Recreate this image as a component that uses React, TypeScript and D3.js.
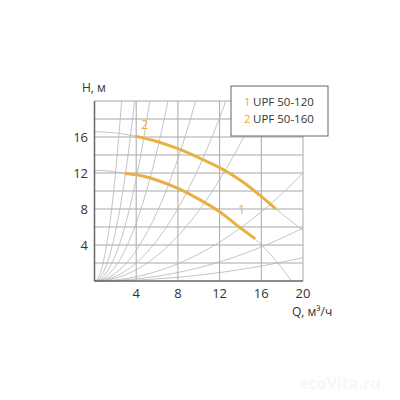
import React from "react";
import * as d3 from "d3";

const xTicks = [4, 8, 12, 16, 20];
const yTicks = [4, 8, 12, 16];
const xGrid = [4, 8, 12, 16, 20];
const yGrid = [2, 4, 6, 8, 10, 12, 14, 16, 18, 20];

// pump curve 1 (UPF 50-120)
const c1Q = [2.9, 4, 6, 8, 10, 12, 14, 15.4];
const c1H = [11.95, 11.8, 11.2, 10.3, 9.1, 7.7, 5.9, 4.7];
const c1GreyLeftQ = [0, 1.5, 2.9];
const c1GreyLeftH = [12.3, 12.2, 11.95];
const c1GreyRightQ = [15.4, 17, 18.9];
const c1GreyRightH = [4.7, 2.8, 0];

// pump curve 2 (UPF 50-160)
const c2Q = [3.9, 6, 8, 10, 12, 14, 16, 17.4];
const c2H = [16.1, 15.5, 14.7, 13.7, 12.6, 11.2, 9.4, 8.0];
const c2GreyLeftQ = [0, 2, 3.9];
const c2GreyLeftH = [16.6, 16.45, 16.1];
const c2GreyRightQ = [17.4, 18.6, 20];
const c2GreyRightH = [8.0, 6.9, 5.6];

// system curves H = k*Q^2 : reach H=20 at these Q
const sysTopQ = [2.6, 3.85, 5.3, 7.05, 9.7, 12.6, 16];
// system curves that reach Q=20 at these H
const sysRightH = [12, 5.9, 2.6];

const legendNums = ["1", "2"];
const legendNames = ["UPF 50-120", "UPF 50-160"];

const ORANGE = "#E9B043";

export default function App() {
  const x = d3.scaleLinear().domain([0, 20]).range([94.5, 303]);
  const y = d3.scaleLinear().domain([0, 20]).range([281, 101]);
  const line = d3
    .line<[number, number]>()
    .x((d) => x(d[0]))
    .y((d) => y(d[1]))
    .curve(d3.curveMonotoneX);
  const zip = (q: number[], h: number[]) => q.map((v, i) => [v, h[i]] as [number, number]);

  const sysPaths: string[] = [];
  const sysK = [
    ...sysTopQ.map((q) => 20 / (q * q)),
    ...sysRightH.map((h) => h / 400),
  ];
  sysK.forEach((k) => {
    const qMax = Math.min(20, Math.sqrt(20 / k));
    const pts: [number, number][] = d3.range(0, 41).map((i) => {
      const q = (qMax * i) / 40;
      return [q, k * q * q];
    });
    sysPaths.push(
      d3.line<[number, number]>().x((d) => x(d[0])).y((d) => y(d[1]))(pts) as string
    );
  });

  const font = "'Open Sans', 'DejaVu Sans', sans-serif";

  return (
    <svg
      width={400}
      height={400}
      style={{ position: "absolute", left: 0, top: 0, background: "#fff" }}
      fontFamily={font}
    >
      <rect width={400} height={400} fill="#fff" />
      {/* grid */}
      {xGrid.map((v) => (
        <line key={"gx" + v} x1={x(v)} x2={x(v)} y1={y(0)} y2={y(20)} stroke="#a8a8a8" strokeWidth={1} />
      ))}
      {yGrid.map((v) => (
        <line key={"gy" + v} x1={x(0)} x2={x(20)} y1={y(v)} y2={y(v)} stroke="#a8a8a8" strokeWidth={1} />
      ))}
      {/* system curves */}
      {sysPaths.map((p, i) => (
        <path key={"s" + i} d={p} fill="none" stroke="#b5b5b5" strokeWidth={0.8} />
      ))}
      {/* grey extensions */}
      {[
        zip(c1GreyLeftQ, c1GreyLeftH),
        zip(c1GreyRightQ, c1GreyRightH),
        zip(c2GreyLeftQ, c2GreyLeftH),
        zip(c2GreyRightQ, c2GreyRightH),
      ].map((pts, i) => (
        <path key={"g" + i} d={line(pts) as string} fill="none" stroke="#b5b5b5" strokeWidth={0.8} />
      ))}
      {/* axes */}
      <line x1={x(0)} x2={x(0)} y1={y(0)} y2={y(20)} stroke="#666" strokeWidth={1.5} />
      <line x1={x(0)} x2={x(20)} y1={y(0)} y2={y(0)} stroke="#666" strokeWidth={1.5} />
      {/* pump curves */}
      <path d={line(zip(c1Q, c1H)) as string} fill="none" stroke={ORANGE} strokeWidth={3} />
      <path d={line(zip(c2Q, c2H)) as string} fill="none" stroke={ORANGE} strokeWidth={3} />
      <text x={x(14.1)} y={y(7.4)} fontSize={12.5} fill={ORANGE} textAnchor="middle">1</text>
      <text x={x(4.8)} y={y(16.9)} fontSize={12.5} fill={ORANGE} textAnchor="middle">2</text>
      {/* tick labels */}
      {xTicks.map((v) => (
        <text key={"xt" + v} x={x(v)} y={298} fontSize={13} fill="#333" textAnchor="middle">{v}</text>
      ))}
      {yTicks.map((v) => (
        <text key={"yt" + v} x={88} y={y(v) + 4.5} fontSize={13} fill="#333" textAnchor="end">{v}</text>
      ))}
      <text x={82} y={92} fontSize={12} fill="#333" textAnchor="start">H, м</text>
      <text x={292} y={316} fontSize={12} fill="#333" textAnchor="start">Q, м³/ч</text>
      {/* legend */}
      <rect x={231} y={86} width={97} height={50} fill="#fff" stroke="#666" strokeWidth={1} />
      {legendNames.map((n, i) => (
        <g key={"l" + i}>
          <text x={244} y={106 + i * 16.5} fontSize={11.5} fill={ORANGE}>{legendNums[i]}</text>
          <text x={253} y={106 + i * 16.5} fontSize={11.5} fill="#333">{n}</text>
        </g>
      ))}
      <text x={340} y={389} fontSize={16} fontWeight="bold" fill="#f7f7f7" textAnchor="middle">ecoVita.ru</text>
    </svg>
  );
}
